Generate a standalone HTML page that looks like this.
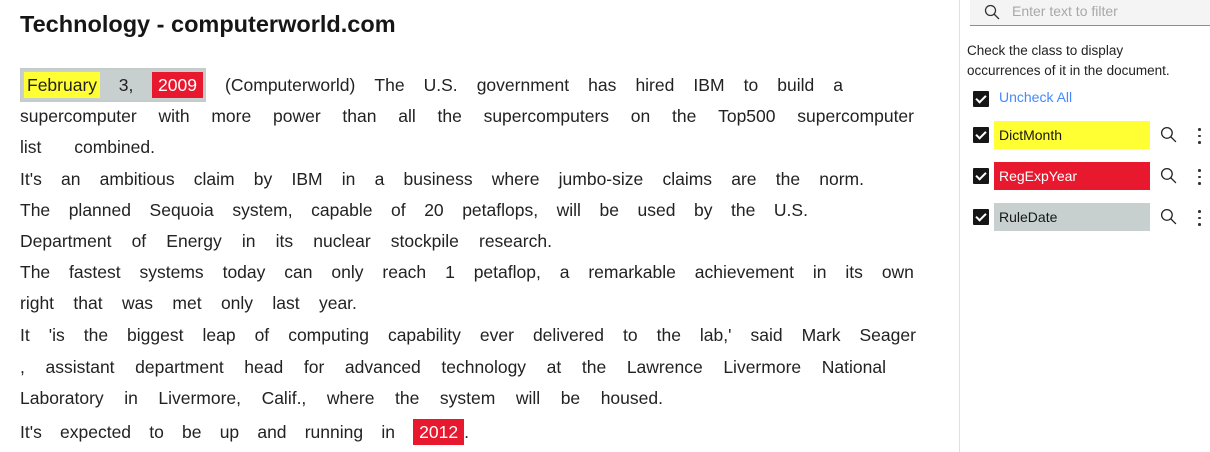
<!DOCTYPE html>
<html><head><meta charset="utf-8">
<style>
*{margin:0;padding:0;box-sizing:border-box}
body{width:1210px;height:452px;background:#fff;font-family:"Liberation Sans",sans-serif;color:#161616;position:relative;overflow:hidden}
.title{position:absolute;left:20px;top:11px;font-size:23.5px;font-weight:bold}
.ln{position:absolute;left:20px;height:28px;line-height:28px;font-size:17.5px;white-space:nowrap;display:flex;justify-content:space-between;align-items:center;color:#222}
.hl{display:inline-block;padding:0 3px;line-height:26px}
.y{background:#ffff33}
.r{background:#e8182f;color:#fff;padding:0 6px}
.ruledate{display:flex;justify-content:space-between;width:186px;align-items:center;background:#c7cfcf;border:2px solid #c3cbcb;padding:1px 1px 1px 2px}
.sep{position:absolute;left:959px;top:0;width:1px;height:452px;background:#e0e0e0}
.search{position:absolute;left:970px;top:0;width:240px;height:26px;background:#f4f4f4;border-bottom:1px solid #8d8d8d}
.search span{position:absolute;left:42px;top:3px;font-size:14px;color:#a8a8a8}
.help{position:absolute;left:967px;top:41px;font-size:13.5px;line-height:20px;color:#222}
.cb{position:absolute;left:973px;width:16px;height:16px;background:#161616;border-radius:1px}
.cb:after{content:"";position:absolute;left:5px;top:2px;width:4px;height:8px;border:solid #fff;border-width:0 2px 2px 0;transform:rotate(45deg)}
.tag{position:absolute;left:994px;width:156px;height:28px;font-size:14px;line-height:28px;padding-left:5px}
.mag{position:absolute;left:1160px}
.dots{position:absolute;left:1198px;width:3px}
.dots i{display:block;width:2.5px;height:2.5px;background:#333;border-radius:50%;margin-bottom:4px}
</style></head><body>
<div class="title">Technology - computerworld.com</div>

<div class="ln" style="top:71px;width:823px">
<span class="ruledate"><span class="hl y">February</span><span>3,</span><span class="hl r">2009</span></span>
<span>(Computerworld)</span><span>The</span><span>U.S.</span><span>government</span><span>has</span><span>hired</span><span>IBM</span><span>to</span><span>build</span><span>a</span></div>
<div class="ln" style="top:102px;width:894px"><span>supercomputer</span><span>with</span><span>more</span><span>power</span><span>than</span><span>all</span><span>the</span><span>supercomputers</span><span>on</span><span>the</span><span>Top500</span><span>supercomputer</span></div>
<div class="ln" style="top:133px;width:135px"><span>list</span><span>combined.</span></div>
<div class="ln" style="top:165px;width:844px"><span>It's</span><span>an</span><span>ambitious</span><span>claim</span><span>by</span><span>IBM</span><span>in</span><span>a</span><span>business</span><span>where</span><span>jumbo-size</span><span>claims</span><span>are</span><span>the</span><span>norm.</span></div>
<div class="ln" style="top:196px;width:788px"><span>The</span><span>planned</span><span>Sequoia</span><span>system,</span><span>capable</span><span>of</span><span>20</span><span>petaflops,</span><span>will</span><span>be</span><span>used</span><span>by</span><span>the</span><span>U.S.</span></div>
<div class="ln" style="top:227px;width:532px"><span>Department</span><span>of</span><span>Energy</span><span>in</span><span>its</span><span>nuclear</span><span>stockpile</span><span>research.</span></div>
<div class="ln" style="top:258px;width:894px"><span>The</span><span>fastest</span><span>systems</span><span>today</span><span>can</span><span>only</span><span>reach</span><span>1</span><span>petaflop,</span><span>a</span><span>remarkable</span><span>achievement</span><span>in</span><span>its</span><span>own</span></div>
<div class="ln" style="top:289px;width:337px"><span>right</span><span>that</span><span>was</span><span>met</span><span>only</span><span>last</span><span>year.</span></div>
<div class="ln" style="top:321px;width:896px"><span>It</span><span>'is</span><span>the</span><span>biggest</span><span>leap</span><span>of</span><span>computing</span><span>capability</span><span>ever</span><span>delivered</span><span>to</span><span>the</span><span>lab,'</span><span>said</span><span>Mark</span><span>Seager</span></div>
<div class="ln" style="top:353px;width:866px"><span>,</span><span>assistant</span><span>department</span><span>head</span><span>for</span><span>advanced</span><span>technology</span><span>at</span><span>the</span><span>Lawrence</span><span>Livermore</span><span>National</span></div>
<div class="ln" style="top:384px;width:643px"><span>Laboratory</span><span>in</span><span>Livermore,</span><span>Calif.,</span><span>where</span><span>the</span><span>system</span><span>will</span><span>be</span><span>housed.</span></div>
<div class="ln" style="top:418px;width:449px"><span>It's</span><span>expected</span><span>to</span><span>be</span><span>up</span><span>and</span><span>running</span><span>in</span><span><span class="hl r">2012</span>.</span></div>

<div class="sep"></div>
<div class="search">
<svg style="position:absolute;left:14px;top:4px" width="16" height="16" viewBox="0 0 16 16"><circle cx="6.5" cy="6.5" r="5" fill="none" stroke="#333" stroke-width="1.3"/><line x1="10" y1="10" x2="15" y2="15" stroke="#333" stroke-width="1.3"/></svg>
<span>Enter text to filter</span></div>
<div class="help">Check the class to display<br>occurrences of it in the document.</div>

<div class="cb" style="top:91px"></div>
<div style="position:absolute;left:999px;top:89px;font-size:14px;color:#4589ff">Uncheck All</div>

<div class="cb" style="top:127px"></div>
<div class="tag" style="top:121px;background:#ffff33">DictMonth</div>
<svg class="mag" style="top:126px" width="17" height="17" viewBox="0 0 16 16"><circle cx="6.5" cy="6.5" r="5" fill="none" stroke="#222" stroke-width="1.2"/><line x1="10" y1="10" x2="15" y2="15" stroke="#222" stroke-width="1.2"/></svg>
<div class="dots" style="top:128px"><i></i><i></i><i></i></div>

<div class="cb" style="top:168px"></div>
<div class="tag" style="top:162px;background:#e8182f;color:#fff">RegExpYear</div>
<svg class="mag" style="top:167px" width="17" height="17" viewBox="0 0 16 16"><circle cx="6.5" cy="6.5" r="5" fill="none" stroke="#222" stroke-width="1.2"/><line x1="10" y1="10" x2="15" y2="15" stroke="#222" stroke-width="1.2"/></svg>
<div class="dots" style="top:169px"><i></i><i></i><i></i></div>

<div class="cb" style="top:209px"></div>
<div class="tag" style="top:203px;background:#c7cfcf">RuleDate</div>
<svg class="mag" style="top:208px" width="17" height="17" viewBox="0 0 16 16"><circle cx="6.5" cy="6.5" r="5" fill="none" stroke="#222" stroke-width="1.2"/><line x1="10" y1="10" x2="15" y2="15" stroke="#222" stroke-width="1.2"/></svg>
<div class="dots" style="top:210px"><i></i><i></i><i></i></div>
</body></html>
